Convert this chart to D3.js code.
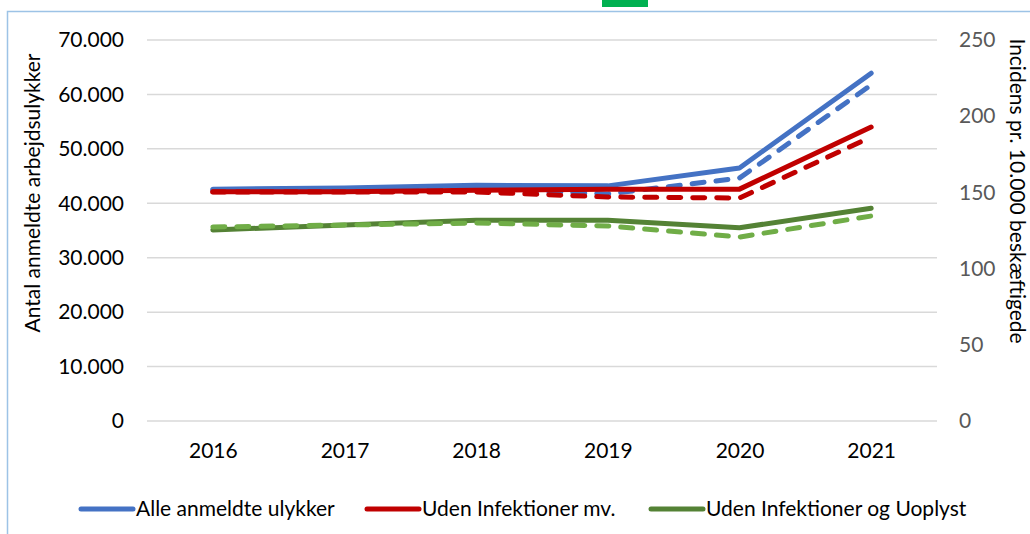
<!DOCTYPE html>
<html>
<head>
<meta charset="utf-8">
<script src="https://cdn.jsdelivr.net/npm/d3@7"></script>
<style>
  body { margin: 0; background: #fff; }
  svg { display: block; font-family: Lato, "Liberation Sans", sans-serif; }
</style>
</head>
<body>
<svg id="chart" width="1030" height="534"></svg>
<script>
const years = ['2016', '2017', '2018', '2019', '2020', '2021'];

// antal anmeldte (left axis)
const alleAntal = [42600, 42800, 43300, 43200, 46500, 63900];
const udenInfAntal = [42100, 42100, 42400, 42600, 42600, 54000];
const udenInfUoplAntal = [35100, 36000, 36900, 36900, 35500, 39100];

// incidens pr. 10.000 (right axis)
const alleIncidens = [151.6, 151.6, 152.2, 149.0, 159.4, 220.5];
const udenInfIncidens = [150.3, 150.3, 150.3, 147.0, 146.3, 186.4];
const udenInfUoplIncidens = [127.3, 128.6, 129.9, 128.0, 120.7, 134.5];

const leftTicks = [0, 10000, 20000, 30000, 40000, 50000, 60000, 70000];
const rightTicks = [0, 50, 100, 150, 200, 250];

const legendNames = ['Alle anmeldte ulykker', 'Uden Infektioner mv.', 'Uden Infektioner og Uoplyst'];

const svg = d3.select('#chart');
const plot = {left: 147, right: 937, top: 40, bottom: 421};

const dk = d3.formatLocale({decimal: ',', thousands: '.', grouping: [3], currency: ['', ' kr']});
const fmt = dk.format(',');

const xScale = d3.scalePoint().domain(years).range([plot.left, plot.right]).padding(0.5);
const yLeft = d3.scaleLinear().domain([0, 70000]).range([plot.bottom, plot.top]);
const yRight = d3.scaleLinear().domain([0, 250]).range([plot.bottom, plot.top]);

// frame
svg.append('rect')
  .attr('x', 7.5).attr('y', 11.5)
  .attr('width', 1040).attr('height', 540)
  .attr('fill', 'none')
  .attr('stroke', '#9DC3E6')
  .attr('stroke-width', 1.5);

// bit of the cut off heading above
svg.append('rect')
  .attr('x', 602).attr('y', -2)
  .attr('width', 46).attr('height', 9)
  .attr('fill', '#00B050');

// gridlines
svg.append('g')
  .selectAll('line')
  .data(leftTicks)
  .join('line')
    .attr('x1', plot.left).attr('x2', plot.right)
    .attr('y1', d => yLeft(d)).attr('y2', d => yLeft(d))
    .attr('stroke', '#D9D9D9')
    .attr('stroke-width', 1.5);

// left axis
const leftAxis = svg.append('g')
  .attr('transform', `translate(${plot.left - 23},0)`)
  .call(d3.axisLeft(yLeft).tickValues(leftTicks).tickFormat(fmt).tickSize(0).tickPadding(0));
leftAxis.select('.domain').remove();
leftAxis.selectAll('text')
  .attr('font-family', 'Lato, sans-serif')
  .attr('font-size', 21)
  .attr('fill', '#000');

// right axis
const rightAxis = svg.append('g')
  .attr('transform', `translate(${plot.right + 22},0)`)
  .call(d3.axisRight(yRight).tickValues(rightTicks).tickSize(0).tickPadding(0));
rightAxis.select('.domain').remove();
rightAxis.selectAll('text')
  .attr('font-family', 'Lato, sans-serif')
  .attr('font-size', 21)
  .attr('fill', '#595959');

// x axis labels
const xAxis = svg.append('g')
  .attr('transform', `translate(0,${plot.bottom + 22})`)
  .call(d3.axisBottom(xScale).tickSize(0).tickPadding(0));
xAxis.select('.domain').remove();
xAxis.selectAll('text')
  .attr('font-family', 'Lato, sans-serif')
  .attr('font-size', 21)
  .attr('fill', '#000');

// axis titles
svg.append('text')
  .attr('transform', 'translate(40,193) rotate(-90)')
  .attr('text-anchor', 'middle')
  .attr('font-size', 21)
  .text('Antal anmeldte arbejdsulykker');

svg.append('text')
  .attr('transform', 'translate(1010,191) rotate(90)')
  .attr('text-anchor', 'middle')
  .attr('font-size', 21)
  .text('Incidens pr. 10.000 beskæftigede');

// series
const series = [
  {values: alleAntal, scale: yLeft, color: '#4472C4', dash: null},
  {values: alleIncidens, scale: yRight, color: '#4472C4', dash: '12,12'},
  {values: udenInfAntal, scale: yLeft, color: '#C00000', dash: null},
  {values: udenInfIncidens, scale: yRight, color: '#C00000', dash: '12,12'},
  {values: udenInfUoplAntal, scale: yLeft, color: '#548235', dash: null},
  {values: udenInfUoplIncidens, scale: yRight, color: '#70AD47', dash: '12,12'}
];

svg.append('g')
  .selectAll('path')
  .data(series)
  .join('path')
    .attr('fill', 'none')
    .attr('stroke', d => d.color)
    .attr('stroke-width', 5)
    .attr('stroke-linecap', 'round')
    .attr('stroke-linejoin', 'round')
    .attr('stroke-dasharray', d => d.dash)
    .attr('d', d => d3.line()
      .x((v, i) => xScale(years[i]))
      .y(v => d.scale(v))(d.values));

// legend
const legendX = [79, 365, 649];
const legendColors = ['#4472C4', '#C00000', '#548235'];
const legend = svg.append('g')
  .selectAll('g')
  .data(legendNames)
  .join('g')
    .attr('transform', (d, i) => `translate(${legendX[i]},509)`);

legend.append('line')
  .attr('x1', 2).attr('x2', 54)
  .attr('stroke', (d, i) => legendColors[i])
  .attr('stroke-width', 5)
  .attr('stroke-linecap', 'round');

legend.append('text')
  .attr('x', 57)
  .attr('dy', '0.35em')
  .attr('font-size', 21)
  .text(d => d);
</script>
</body>
</html>
